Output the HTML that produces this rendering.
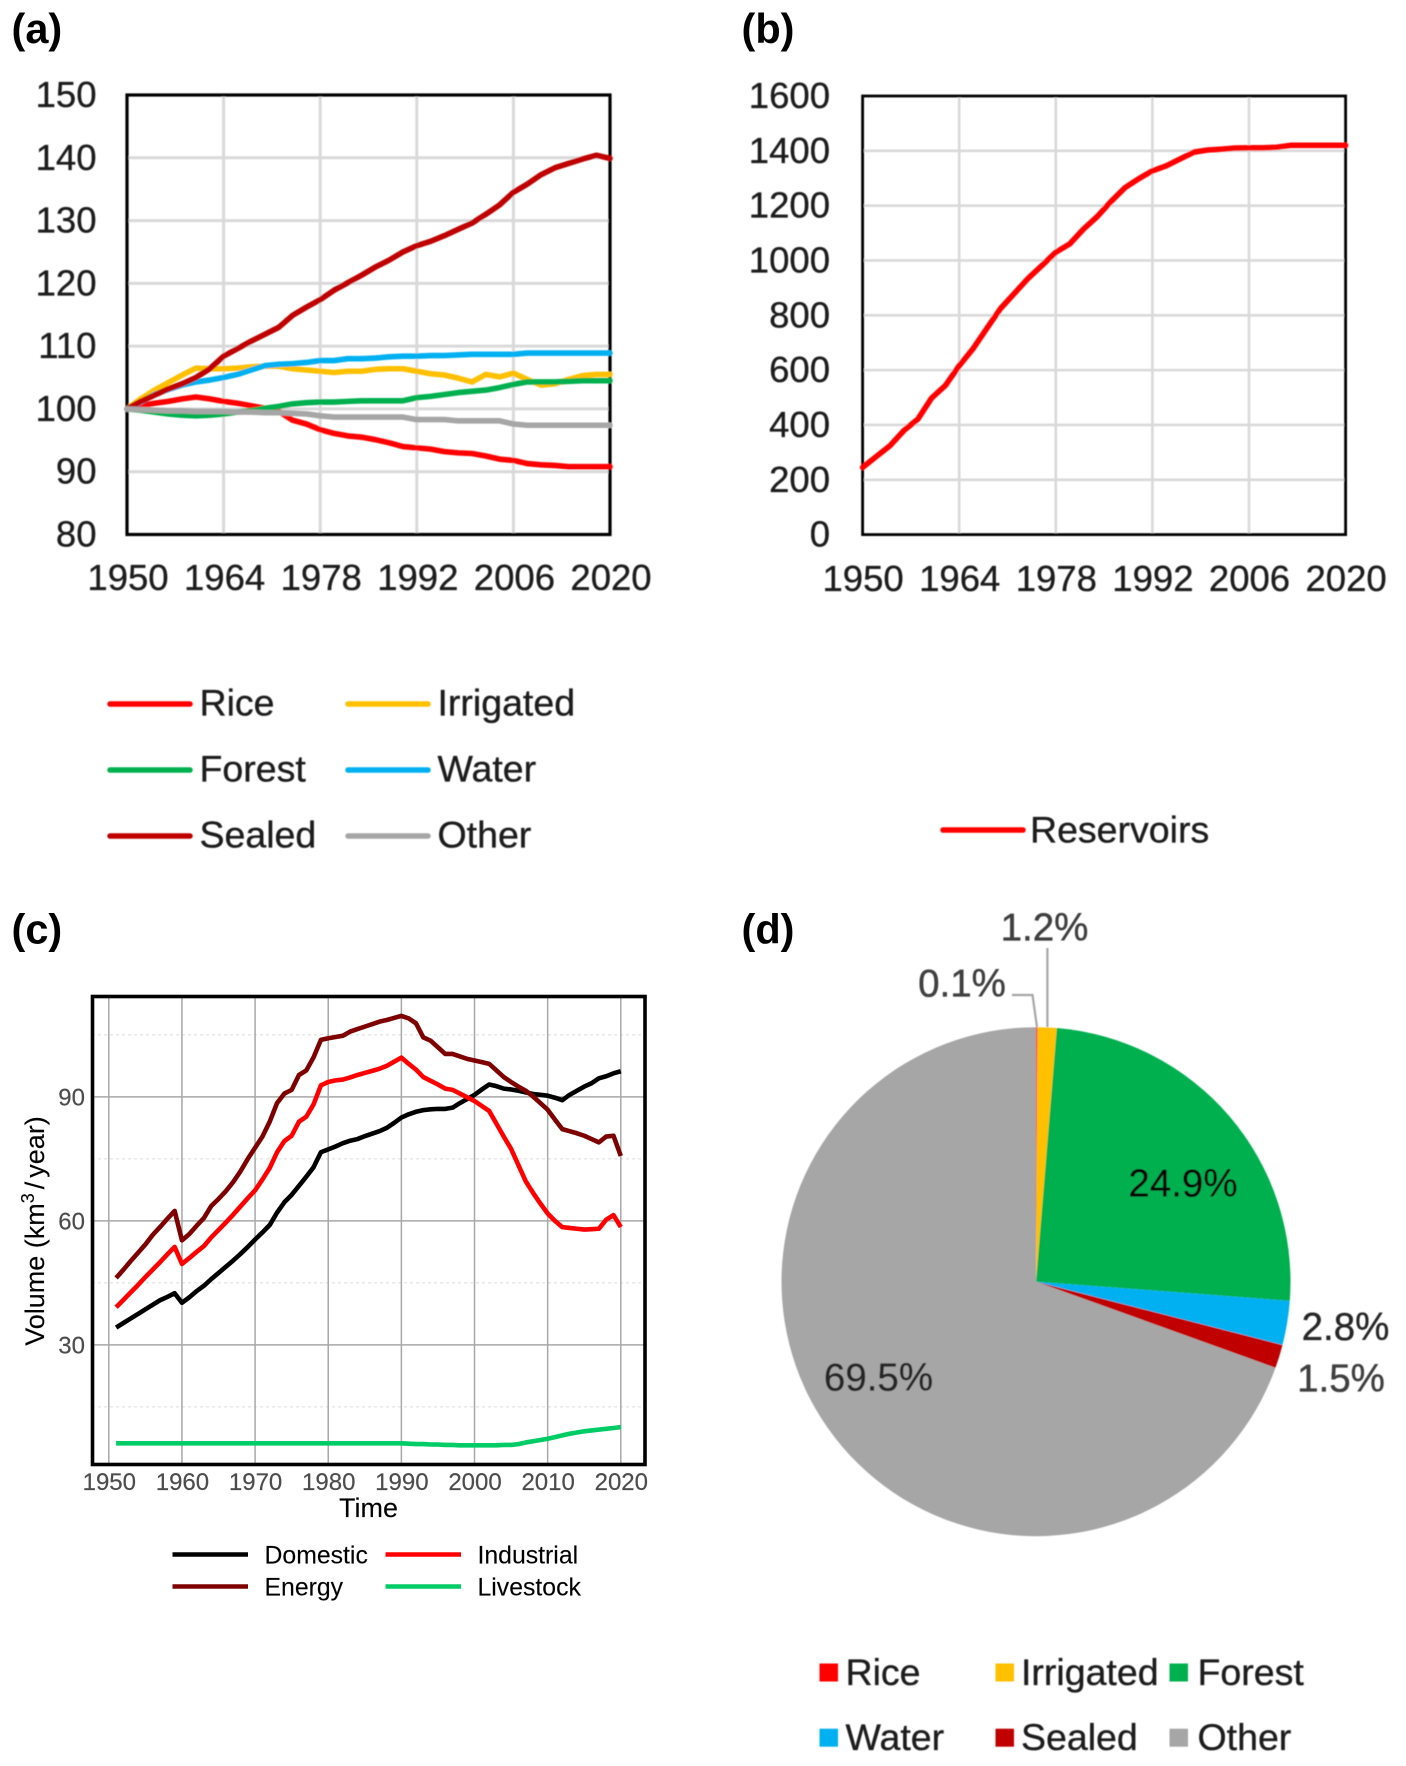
<!DOCTYPE html>
<html lang="en">
<head>
<meta charset="utf-8">
<title>Land use and water use panels</title>
<style>
html,body{margin:0;padding:0;background:#fff;}
svg{display:block;font-family:"Liberation Sans",Arial,sans-serif;}
g.heavy text{stroke:#222;stroke-width:.35px;}
g.light text{stroke:#333;stroke-width:.15px;}
</style>
</head>
<body>
<svg id="figure" xmlns="http://www.w3.org/2000/svg" width="1406" height="1766" viewBox="0 0 1406 1766">
<defs>
<filter id="soft" x="-5%" y="-5%" width="110%" height="110%"><feGaussianBlur stdDeviation="0.6"/></filter>
<filter id="softer" x="-5%" y="-5%" width="110%" height="110%"><feGaussianBlur stdDeviation="0.35"/></filter>
</defs>
<rect width="1406" height="1766" fill="#fff"/>
</svg>
<script>
// ---------- Panel (a) data ----------
const yearsA = [1950,1952,1954,1956,1958,1960,1962,1964,1966,1968,1970,1972,1974,1976,1978,1980,1982,1984,1986,1988,1990,1992,1994,1996,1998,2000,2002,2004,2006,2008,2010,2012,2014,2016,2018,2020];
const riceA = [100,100.5,100.9,101.2,101.6,101.9,101.6,101.2,100.9,100.5,100.1,99.6,98.2,97.6,96.7,96.1,95.7,95.5,95.1,94.6,94,93.8,93.6,93.2,93,92.9,92.5,92,91.8,91.3,91.1,91,90.8,90.8,90.8,90.8];
const irrigatedA = [100,101.6,103,104.2,105.4,106.5,106.4,106.4,106.5,106.7,106.8,106.8,106.4,106.2,106,105.8,106,106,106.3,106.4,106.4,106,105.6,105.4,104.9,104.3,105.5,105.1,105.7,104.7,103.8,104,104.7,105.3,105.5,105.5];
const forestA = [100,99.8,99.5,99.2,99,98.9,99,99.2,99.5,99.7,100.1,100.4,100.8,101,101.1,101.1,101.2,101.3,101.3,101.3,101.3,101.8,102,102.3,102.6,102.8,103,103.4,103.9,104.3,104.3,104.3,104.4,104.5,104.5,104.5];
const waterA = [100,101.1,102.3,103.1,103.8,104.3,104.6,105,105.5,106.2,106.9,107.1,107.2,107.4,107.7,107.7,108,108,108.1,108.3,108.4,108.4,108.5,108.5,108.6,108.7,108.7,108.7,108.7,108.9,108.9,108.9,108.9,108.9,108.9,108.9];
const sealedA = [100,101.2,102.2,103.2,104,105,106.4,108.4,109.6,110.8,111.9,113,114.9,116.2,117.4,118.9,120.1,121.3,122.6,123.7,125,126,126.7,127.6,128.6,129.6,131,132.5,134.5,135.8,137.3,138.4,139.1,139.8,140.4,139.9];
const otherA = [100,99.9,99.8,99.7,99.7,99.6,99.6,99.6,99.5,99.5,99.4,99.4,99.3,99.2,98.9,98.7,98.7,98.7,98.7,98.7,98.7,98.3,98.3,98.3,98.1,98.1,98.1,98.1,97.6,97.4,97.4,97.4,97.4,97.4,97.4,97.4];
const yTicksA = [80,90,100,110,120,130,140,150];
const xTicksAB = [1950,1964,1978,1992,2006,2020];

// ---------- Panel (b) data ----------
const reservoirsB = [245,285,325,380,421,498,544,616,678,752,825,880,935,982,1030,1060,1114,1160,1215,1265,1298,1327,1345,1370,1395,1403,1406,1410,1411,1411,1413,1420,1420,1420,1420,1420];
const yTicksB = [0,200,400,600,800,1000,1200,1400,1600];

// ---------- Panel (c) data ----------
const yearsC = [1951,1952,1953,1954,1955,1956,1957,1958,1959,
1960,1961,1962,1963,1964,1965,1966,1967,1968,1969,
1970,1971,1972,1973,1974,1975,1976,1977,1978,1979,
1980,1981,1982,1983,1984,1985,1986,1987,1988,1989,
1990,1991,1992,1993,1994,1995,1996,1997,1998,1999,
2000,2001,2002,2003,2004,2005,2006,2007,2008,2009,
2010,2011,2012,2013,2014,2015,2016,2017,2018,2019,2020];
const domesticC = [34.2,35.3,36.4,37.5,38.6,39.7,40.8,41.6,42.5,
40.2,41.5,43,44.3,45.9,47.4,48.9,50.4,52,53.7,
55.5,57.2,59,62,64.5,66.3,68.5,70.7,73,76.6,
77.3,78,78.8,79.4,79.8,80.5,81.1,81.7,82.5,83.7,
85,85.8,86.4,86.8,87,87.1,87.1,87.4,88.5,89.5,
90.5,91.8,93,92.6,92,91.8,91.5,91.1,90.7,90.5,
90.3,89.8,89.2,90.5,91.5,92.5,93.3,94.5,95,95.7,96.2];
const industrialC = [39.1,40.9,42.7,44.5,46.4,48.2,50,51.9,53.7,
49.6,51,52.5,53.9,56,57.8,59.6,61.5,63.5,65.5,
67.4,70,72.8,76.6,79.3,80.6,84,85.2,88.2,92.8,
93.6,94,94.2,94.7,95.3,95.8,96.3,96.8,97.5,98.5,
99.5,98,96.6,94.8,93.9,93,92,91.7,90.8,89.9,
89,87.8,86.6,83.5,80.4,77.4,73.5,69.6,66.8,64.2,
61.8,60,58.5,58.3,58.1,57.9,58,58.1,60.3,61.4,58.5];
const energyC = [46.2,48.2,50.3,52.3,54.3,56.6,58.5,60.5,62.4,
55.3,56.8,58.8,60.7,63.6,65.3,67.2,69.4,72,75,
77.7,80.4,84,88.5,90.8,91.7,95.3,96.4,99.6,103.8,
104.2,104.5,104.8,105.8,106.4,107,107.6,108.2,108.6,109.1,
109.6,109,107.8,104.4,103.6,102,100.4,100.4,99.8,99.2,
98.8,98.4,98,96.4,94.8,93.6,92.5,91.5,90.1,88.5,
86.9,84.5,82.2,81.7,81.2,80.6,79.8,79,80.4,80.6,75.7];
const livestockC = [6.2,6.2,6.2,6.2,6.2,6.2,6.2,6.2,6.2,
6.2,6.2,6.2,6.2,6.2,6.2,6.2,6.2,6.2,6.2,
6.2,6.2,6.2,6.2,6.2,6.2,6.2,6.2,6.2,6.2,
6.2,6.2,6.2,6.2,6.2,6.2,6.2,6.2,6.2,6.2,
6.2,6.1,6,6,5.9,5.9,5.8,5.8,5.7,5.7,
5.7,5.7,5.7,5.7,5.8,5.8,6,6.4,6.7,7,
7.3,7.7,8.1,8.5,8.8,9.1,9.3,9.5,9.7,9.9,10.1];
const xTicksC = [1950,1960,1970,1980,1990,2000,2010,2020];
const yTicksC = [30,60,90];
const yMinorTicksC = [15,45,75,105];

// ---------- Panel (d) data ----------
const pieNames = ['Rice','Irrigated','Forest','Water','Sealed','Other'];
const pieValues = [0.1,1.2,24.9,2.8,1.5,69.5];

// ---------- Helpers ----------
const svgNS = 'http://www.w3.org/2000/svg';
const root = document.getElementById('figure');
function make(tag, attrs, parent, text) {
  const n = document.createElementNS(svgNS, tag);
  for (const k in attrs) n.setAttribute(k, attrs[k]);
  if (text !== undefined) n.textContent = text;
  parent.appendChild(n);
  return n;
}
function linePath(xs, ys, xf, yf) {
  return xs.map((x, i) => (i ? 'L' : 'M') + xf(x).toFixed(2) + ' ' + yf(ys[i]).toFixed(2)).join(' ');
}

// ---------- Panel labels ----------
const panelLetters = ['(a)','(b)','(c)','(d)'];
panelLetters.forEach((t, i) => {
  const lab = make('text', {x: i % 2 ? 741.5 : 11.5, y: i < 2 ? 43 : 943.5, 'font-size': 41.5, 'font-weight': 700, fill: '#000'}, root, t);
  
  
});

// ---------- Panel (a) ----------
const xA = y => 127 + (y - 1950) * (483 / 70);
const yA = v => 95 + (150 - v) * (439.5 / 70);
const gA = make('g', {filter: 'url(#soft)', class: 'heavy'}, root);


yTicksA.forEach(v => {
  if (v !== 80 && v !== 150) {
    const g = make('line', {x1: 127, x2: 610, y1: yA(v), y2: yA(v), stroke: '#d9d9d9', 'stroke-width': 3}, gA);
    
    
  }
  const t = make('text', {x: 96.5, y: yA(v) + 12, 'text-anchor': 'end', 'font-size': 36.5, fill: '#1c1c1c'}, gA, v);
  
  
});
xTicksAB.forEach(v => {
  if (v !== 1950 && v !== 2020) {
    const g = make('line', {x1: xA(v), x2: xA(v), y1: 95, y2: 534, stroke: '#d9d9d9', 'stroke-width': 3}, gA);
    
    
  }
  const t = make('text', {x: xA(v) + 1, y: 590, 'text-anchor': 'middle', 'font-size': 36.5, fill: '#1c1c1c'}, gA, v);
  
  
});
const boxA = make('rect', {x: 127, y: 95, width: 483, height: 439.5, fill: 'none', stroke: '#000', 'stroke-width': 3.2}, gA);



const seriesRice = make('path', {d: linePath(yearsA, riceA, xA, yA), fill: 'none', stroke: '#ff0000', 'stroke-width': 5.6, 'stroke-linejoin': 'round', 'stroke-linecap': 'round'}, gA);


const seriesIrrigated = make('path', {d: linePath(yearsA, irrigatedA, xA, yA), fill: 'none', stroke: '#ffc000', 'stroke-width': 5.6, 'stroke-linejoin': 'round', 'stroke-linecap': 'round'}, gA);


const seriesForest = make('path', {d: linePath(yearsA, forestA, xA, yA), fill: 'none', stroke: '#00b050', 'stroke-width': 5.6, 'stroke-linejoin': 'round', 'stroke-linecap': 'round'}, gA);


const seriesWater = make('path', {d: linePath(yearsA, waterA, xA, yA), fill: 'none', stroke: '#00b0f0', 'stroke-width': 5.6, 'stroke-linejoin': 'round', 'stroke-linecap': 'round'}, gA);


const seriesSealed = make('path', {d: linePath(yearsA, sealedA, xA, yA), fill: 'none', stroke: '#c00000', 'stroke-width': 5.6, 'stroke-linejoin': 'round', 'stroke-linecap': 'round'}, gA);


const seriesOther = make('path', {d: linePath(yearsA, otherA, xA, yA), fill: 'none', stroke: '#a6a6a6', 'stroke-width': 5.6, 'stroke-linejoin': 'round', 'stroke-linecap': 'round'}, gA);



// Panel (a) legend
const legendNamesA = ['Rice','Irrigated','Forest','Water','Sealed','Other'];
const legendColorsA = ['#ff0000','#ffc000','#00b050','#00b0f0','#c00000','#a6a6a6'];
legendNamesA.forEach((nm, i) => {
  const col = i % 2, row = Math.floor(i / 2);
  const lx = col ? 348 : 110, tx = col ? 437.5 : 199.5, ly = 704 + row * 66;
  const entry = make('g', {}, gA);
  
  
  const sw = make('line', {x1: lx, x2: lx + 80, y1: ly, y2: ly, stroke: legendColorsA[i], 'stroke-width': 5.5, 'stroke-linecap': 'round'}, entry);
  
  
  const tt = make('text', {x: tx, y: ly + 11.5, 'font-size': 37.5, fill: '#1c1c1c'}, entry, nm);
  
  
});

// ---------- Panel (b) ----------
const xB = y => 862.6 + (y - 1950) * (483 / 70);
const yB = v => 96 + (1600 - v) * (438.6 / 1600);
const gB = make('g', {filter: 'url(#soft)', class: 'heavy'}, root);


yTicksB.forEach(v => {
  if (v !== 0 && v !== 1600) {
    const g = make('line', {x1: 862.6, x2: 1345.6, y1: yB(v), y2: yB(v), stroke: '#d9d9d9', 'stroke-width': 2.6}, gB);
    
    
  }
  const t = make('text', {x: 830, y: yB(v) + 12, 'text-anchor': 'end', 'font-size': 36.5, fill: '#1c1c1c'}, gB, v);
  
  
});
xTicksAB.forEach(v => {
  if (v !== 1950 && v !== 2020) {
    const g = make('line', {x1: xB(v), x2: xB(v), y1: 96, y2: 534.6, stroke: '#d9d9d9', 'stroke-width': 2.6}, gB);
    
    
  }
  const t = make('text', {x: xB(v) + 0.5, y: 591, 'text-anchor': 'middle', 'font-size': 36.5, fill: '#1c1c1c'}, gB, v);
  
  
});
const boxB = make('rect', {x: 862.6, y: 96, width: 483, height: 438.6, fill: 'none', stroke: '#000', 'stroke-width': 2.8}, gB);


const seriesReservoirs = make('path', {d: linePath(yearsA, reservoirsB, xB, yB), fill: 'none', stroke: '#ff0000', 'stroke-width': 5.6, 'stroke-linejoin': 'round', 'stroke-linecap': 'round'}, gB);


const legendLineB = make('line', {x1: 943, x2: 1023, y1: 830, y2: 830, stroke: '#ff0000', 'stroke-width': 5.5, 'stroke-linecap': 'round'}, gB);


const legendTextB = make('text', {x: 1030, y: 842.5, 'font-size': 37.5, fill: '#1c1c1c'}, gB, 'Reservoirs');



// ---------- Panel (c) ----------
const xC = y => 108.8 + (y - 1950) * (512 / 70);
const yC = v => 1096.9 + (90 - v) * (124 / 30);
const gC = make('g', {filter: 'url(#softer)', class: 'light'}, root);


yMinorTicksC.forEach(v => {
  const g = make('line', {x1: 92, x2: 645, y1: yC(v), y2: yC(v), stroke: '#dcdcdc', 'stroke-width': 1, 'stroke-dasharray': '3 3'}, gC);
  
  
});
yTicksC.forEach(v => {
  const g = make('line', {x1: 92, x2: 645, y1: yC(v), y2: yC(v), stroke: '#a8a8a8', 'stroke-width': 1.5}, gC);
  
  
  const t = make('text', {x: 85, y: yC(v) + 8.6, 'text-anchor': 'end', 'font-size': 24, fill: '#4d4d4d'}, gC, v);
  
  
});
xTicksC.forEach(v => {
  const g = make('line', {x1: xC(v), x2: xC(v), y1: 996.5, y2: 1464.5, stroke: '#a8a8a8', 'stroke-width': 1.5}, gC);
  
  
  const t = make('text', {x: xC(v) + 0.5, y: 1490, 'text-anchor': 'middle', 'font-size': 24, fill: '#4d4d4d'}, gC, v);
  
  
});
const boxC = make('rect', {x: 92.5, y: 996.5, width: 552.5, height: 468, fill: 'none', stroke: '#000', 'stroke-width': 3.6}, gC);



const seriesDomestic = make('path', {d: linePath(yearsC, domesticC, xC, yC), fill: 'none', stroke: '#000000', 'stroke-width': 4.6, 'stroke-linejoin': 'round'}, gC);


const seriesEnergy = make('path', {d: linePath(yearsC, energyC, xC, yC), fill: 'none', stroke: '#7f0000', 'stroke-width': 4.6, 'stroke-linejoin': 'round'}, gC);


const seriesIndustrial = make('path', {d: linePath(yearsC, industrialC, xC, yC), fill: 'none', stroke: '#ff0000', 'stroke-width': 4.6, 'stroke-linejoin': 'round'}, gC);


const seriesLivestock = make('path', {d: linePath(yearsC, livestockC, xC, yC), fill: 'none', stroke: '#00cc66', 'stroke-width': 4.6, 'stroke-linejoin': 'round'}, gC);



const xTitleC = make('text', {x: 368.5, y: 1517, 'text-anchor': 'middle', 'font-size': 27, fill: '#000'}, gC, 'Time');


const yTitleC = make('text', {transform: 'translate(44,1231) rotate(-90)', 'text-anchor': 'middle', 'font-size': 27, fill: '#000'}, gC);


yTitleC.appendChild(document.createTextNode('Volume (km'));
const supC = make('tspan', {dy: -10, 'font-size': 18}, yTitleC, '3');


const restC = make('tspan', {dy: 10, dx: 4}, yTitleC, '/');


const rest2C = make('tspan', {dx: 4}, yTitleC, 'year)');



const legendNamesC = ['Domestic','Industrial','Energy','Livestock'];
const legendColorsC = ['#000000','#ff0000','#7f0000','#00cc66'];
legendNamesC.forEach((nm, i) => {
  const col = i % 2, row = Math.floor(i / 2);
  const lx = col ? 385.5 : 172.5, tx = col ? 477.5 : 264.5, ly = 1554.5 + row * 32;
  const entry = make('g', {}, gC);
  
  
  const sw = make('line', {x1: lx, x2: lx + 75.5, y1: ly, y2: ly, stroke: legendColorsC[i], 'stroke-width': 4.6}, entry);
  
  
  const tt = make('text', {x: tx, y: ly + 9, 'font-size': 24.8, fill: '#000'}, entry, nm);
  
  
});

// ---------- Panel (d) ----------
const pieColors = ['#ff5050','#ffc000','#00b050','#00b0f0','#c00000','#a6a6a6'];
const legendColorsD = ['#ff0000','#ffc000','#00b050','#00b0f0','#c00000','#a6a6a6'];
const pieCx = 1036, pieCy = 1281.7, pieR = 254.5;
const gD = make('g', {filter: 'url(#soft)', class: 'heavy'}, root);


const pieTotal = pieValues.reduce((a, b) => a + b, 0);
const angleOf = c => (c / pieTotal) * 2 * Math.PI;
let cum = 0;
pieValues.forEach((v, i) => {
  const a0 = angleOf(cum), a1 = angleOf(cum + v);
  cum += v;
  const x0 = pieCx + pieR * Math.sin(a0), y0 = pieCy - pieR * Math.cos(a0);
  const x1 = pieCx + pieR * Math.sin(a1), y1 = pieCy - pieR * Math.cos(a1);
  const big = a1 - a0 > Math.PI ? 1 : 0;
  const d = `M${pieCx} ${pieCy} L${x0.toFixed(2)} ${y0.toFixed(2)} A${pieR} ${pieR} 0 ${big} 1 ${x1.toFixed(2)} ${y1.toFixed(2)} Z`;
  const s = make('path', {d: d, fill: pieColors[i]}, gD);
  
  
});
const leader1 = make('polyline', {points: '1047.4,948 1047.4,1027', fill: 'none', stroke: '#a6a6a6', 'stroke-width': 2.2}, gD);


const leader2 = make('polyline', {points: '1012,995 1032.5,995 1037,1027', fill: 'none', stroke: '#a6a6a6', 'stroke-width': 2.2}, gD);



const pieLabelPlacement = [[962,996.5,'#404040'],[1044.5,940.5,'#404040'],[1183,1196.5,'#000'],[1345.5,1340,'#262626'],[1341,1391.5,'#404040'],[878.5,1390.5,'#262626']];
pieValues.forEach((v, i) => {
  const p = pieLabelPlacement[i];
  const t = make('text', {x: p[0], y: p[1], 'text-anchor': 'middle', 'font-size': 38.5, fill: p[2]}, gD, v.toFixed(1) + '%');
  
  
});
pieNames.forEach((nm, i) => {
  const col = i % 3, row = Math.floor(i / 3);
  const sx = [819.5, 995.5, 1169.5][col], tx = [845.5, 1021, 1197.5][col], sy = 1663.5 + row * 65.2;
  const entry = make('g', {}, gD);
  
  
  const sw = make('rect', {x: sx, y: sy, width: 18.5, height: 18, fill: legendColorsD[i]}, entry);
  
  
  const tt = make('text', {x: tx, y: sy + 21.5, 'font-size': 37.5, fill: '#1c1c1c'}, entry, nm);
  
  
});
</script>
</body>
</html>
